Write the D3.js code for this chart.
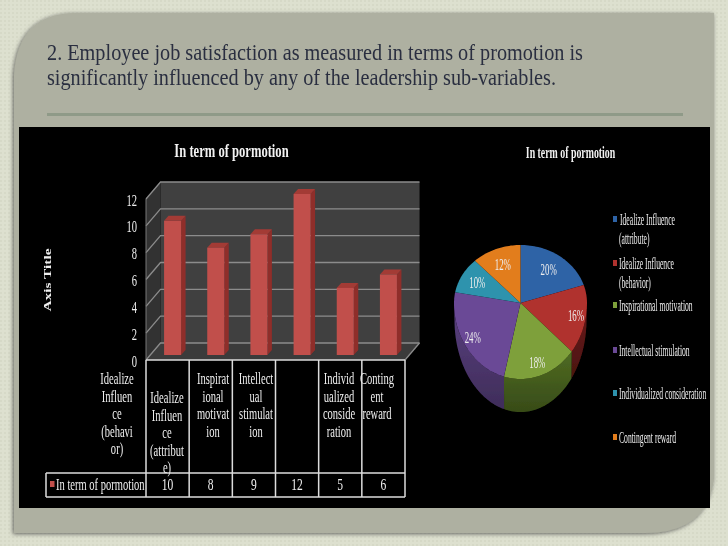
<!DOCTYPE html>
<html><head><meta charset="utf-8">
<script src="https://cdn.jsdelivr.net/npm/d3@7"></script>
<style>html,body{margin:0;padding:0;background:#dde0cf}svg{display:block}text{font-family:"Liberation Serif",serif}</style>
</head><body><svg id="c" width="728" height="546"></svg>
<script>
const headline = ["2. Employee job satisfaction as measured in terms of promotion is","significantly influenced by any of the leadership sub-variables."];
const chartTitle = "In term of pormotion";
const axisTitle = "Axis Title";
const seriesName = "In term of pormotion";
const tickLabels = [0,2,4,6,8,10,12];
const barValues = [10,8,9,12,5,6];
const axisLabels = [
  ["Idealize","Influen","ce","(behavi","or)"],
  ["Idealize","Influen","ce","(attribut","e)"],
  ["Inspirat","ional","motivat","ion"],
  ["Intellect","ual","stimulat","ion"],
  [],
  ["Individ","ualized","conside","ration"],
  ["Conting","ent","reward"]
];
const pieCategories = ["Idealize Influence (attribute)","Idealize Influence (behavior)","Inspirational motivation","Intellectual stimulation","Individualized consideration","Contingent reward"];
const pieValues = [20,16,18,24,10,12];
const pieColors = ["#2f63a6","#b0312d","#7ea03a","#6a4896","#2f93ad","#e27d1f"];
const sideColors = ["#1d3d66","#6a1a17","#4f6b22","#5a4080","#1c5a6a","#8a4c12"];
const legendLines = [["Idealize Influence","(attribute)"],["Idealize Influence","(behavior)"],["Inspirational motivation"],["Intellectual stimulation"],["Individualized consideration"],["Contingent reward"]];

const svg = d3.select("#c");
const defs = svg.append("defs");
const pat = defs.append("pattern").attr("id","dots").attr("width",4).attr("height",4).attr("patternUnits","userSpaceOnUse");
pat.append("rect").attr("width",4).attr("height",4).attr("fill","#dde0cf");
pat.append("rect").attr("width",2).attr("height",2).attr("fill","#d6d9c7");
const sh = defs.append("filter").attr("id","sh").attr("x","-5%").attr("y","-5%").attr("width","110%").attr("height","110%");
sh.append("feDropShadow").attr("dx",-1).attr("dy",1).attr("stdDeviation",2).attr("flood-color","#444").attr("flood-opacity",.8);
defs.append("filter").attr("id","soft").append("feGaussianBlur").attr("stdDeviation",.45);
const shade = defs.append("linearGradient").attr("id","sideShade").attr("x1",0).attr("x2",0).attr("y1",0).attr("y2",1);
shade.append("stop").attr("offset",0).attr("stop-color","#000").attr("stop-opacity",0);
shade.append("stop").attr("offset",1).attr("stop-color","#000").attr("stop-opacity",.3);

svg.append("rect").attr("width",728).attr("height",546).attr("fill","url(#dots)");
const root = svg.append("g").attr("filter","url(#soft)");
root.append("path").attr("filter","url(#sh)").attr("fill","#aeb0a1")
  .attr("d","M14 75 Q18 13 76 13 H714 V478 Q708 533 645 533 H14 Z");
root.append("rect").attr("x",47).attr("y",113).attr("width",636).attr("height",3).attr("fill","#8f9a88");
[[536,60],[509,85]].forEach((d,i)=>root.append("text").attr("x",47).attr("y",d[1]).attr("font-size",24).attr("fill","#2a2f40")
  .attr("textLength",d[0]).attr("lengthAdjust","spacingAndGlyphs").text(headline[i]));
root.append("rect").attr("x",19).attr("y",127).attr("width",691).attr("height",381).attr("fill","#000");

function squeezed(g,x,y,str,sx,anchor,size,fill){
  return g.append("text").attr("transform",`translate(${x},${y}) scale(${sx},1)`)
    .attr("text-anchor",anchor).attr("font-size",size).attr("fill",fill||"#eee").attr("dominant-baseline","central").text(str);
}

/* ---------- 3-D column chart ---------- */
const left=146,right=405,floorY=360,depthX=14.5,depthY=-17,topY=199;
const yWall=d3.scaleLinear().domain([0,12]).range([floorY,topY]);
const yBar=d3.scaleLinear().domain([0,12]).range([355,194]);
const x=d3.scaleBand().domain(d3.range(6)).range([left,right]);
const w=x.bandwidth(), barW=17, bx=4.5, by=-5, shift=5;
const pts=a=>a.map(p=>p.join(",")).join(" ");
const c=root.append("g");
c.append("polygon").attr("points",pts([[left+depthX,yWall(12)+depthY],[right+depthX,yWall(12)+depthY],[right+depthX,floorY+depthY],[left+depthX,floorY+depthY]])).attr("fill","#414141");
c.append("polygon").attr("points",pts([[left,yWall(12)],[left+depthX,yWall(12)+depthY],[left+depthX,floorY+depthY],[left,floorY]])).attr("fill","#333");
c.append("polygon").attr("points",pts([[left,floorY],[right,floorY],[right+depthX,floorY+depthY],[left+depthX,floorY+depthY]])).attr("fill","#3a3a3a");
tickLabels.forEach(t=>{
  c.append("polyline").attr("fill","none").attr("stroke","#8c8c8c").attr("stroke-width",1.3)
   .attr("points",pts([[left,yWall(t)],[left+depthX,yWall(t)+depthY],[right+depthX,yWall(t)+depthY]]));
});
c.append("polyline").attr("fill","none").attr("stroke","#8c8c8c").attr("stroke-width",1.3)
 .attr("points",pts([[right,floorY],[right+depthX,floorY+depthY]]));
c.append("line").attr("x1",left).attr("x2",left).attr("y1",yWall(12)).attr("y2",floorY).attr("stroke","#777").attr("stroke-width",1);
const bars=c.selectAll("g.bar").data(barValues).join("g").attr("class","bar");
const bL=(d,i)=>x(i)+w/2+shift-barW/2;
bars.append("polygon").attr("fill","#8f2e2b").attr("points",(d,i)=>pts([[bL(d,i)+barW,yBar(d)],[bL(d,i)+barW+bx,yBar(d)+by],[bL(d,i)+barW+bx,yBar(0)+by],[bL(d,i)+barW,yBar(0)]]));
bars.append("polygon").attr("fill","#a33a36").attr("points",(d,i)=>pts([[bL(d,i),yBar(d)],[bL(d,i)+bx,yBar(d)+by],[bL(d,i)+barW+bx,yBar(d)+by],[bL(d,i)+barW,yBar(d)]]));
bars.append("rect").attr("fill","#c1504c").attr("x",bL).attr("y",d=>yBar(d)).attr("width",barW).attr("height",d=>yBar(0)-yBar(d));

const yAxis=c.append("g").attr("transform",`translate(${left},0)`).call(d3.axisLeft(yWall).tickValues(tickLabels).tickSize(0).tickPadding(0));
yAxis.select(".domain").remove();
yAxis.selectAll("text").attr("x",0).attr("dy",null).attr("dominant-baseline","central").attr("font-size",17).attr("font-family","Liberation Serif").attr("fill","#eee")
  .attr("transform","translate(-9,0) scale(.62,1)");

const tableBottom=497,rowTop=473,legendLeft=46;
const tline=(a,b,e,f)=>c.append("line").attr("x1",a).attr("y1",b).attr("x2",e).attr("y2",f).attr("stroke","#ddd").attr("stroke-width",1.5);
tline(left,floorY,right,floorY);
tline(legendLeft,rowTop,right,rowTop);
tline(legendLeft,tableBottom,right,tableBottom);
tline(legendLeft,rowTop,legendLeft,tableBottom);
d3.range(7).forEach(i=>tline(left+i*w,floorY,left+i*w,tableBottom));

const labelCenter=[117,167,213,256,297,339,377];
const lineTop=[378,397,378,378,378,378,378];
axisLabels.forEach((lines,i)=>lines.forEach((s,j)=>{
  squeezed(c,labelCenter[i],lineTop[i]+j*17.6,s,.62,"middle",17);
}));
c.selectAll("text.v").data(barValues).join("text").attr("class","v")
  .attr("transform",(d,i)=>`translate(${x(i)+w/2},484) scale(.68,1)`)
  .attr("text-anchor","middle").attr("dominant-baseline","central").attr("font-size",17).attr("fill","#eee").text(d=>d);
c.append("rect").attr("x",50).attr("y",481).attr("width",4.5).attr("height",6).attr("fill","#c1504c");
squeezed(c,56,484,seriesName,.62,"start",17);
squeezed(c,231.5,151,chartTitle,.7,"middle",18,"#f2f2f2").attr("font-weight","bold");
c.append("text").attr("transform","translate(47,280) rotate(-90)").attr("text-anchor","middle").attr("dominant-baseline","central")
  .attr("font-size",11).attr("font-weight","bold").attr("fill","#eee").attr("textLength",63).attr("lengthAdjust","spacingAndGlyphs").text(axisTitle);

/* ---------- 3-D pie ---------- */
const cx=520.5,cy=303,rx=66.5,ryUp=58,ryDown=76;
const top3=a=>{const s=Math.sin(a),k=Math.cos(a);return [cx+rx*s, cy-(k>0?ryUp:ryDown)*k];};
const bot3=a=>{const s=Math.sin(a),k=Math.cos(a);return [cx+66*s, 320-92*k];};
const arcs=d3.pie().sort(null)(pieValues);
const line=d3.line();
const steps=(a0,a1)=>{const n=Math.max(2,Math.ceil((a1-a0)/.03));return d3.range(n+1).map(i=>a0+(a1-a0)*i/n);};
const p=root.append("g");
arcs.forEach((a,i)=>{
  const a0=Math.max(a.startAngle,Math.PI/2),a1=Math.min(a.endAngle,Math.PI*1.5);
  if(a1<=a0)return;
  const path=steps(a0,a1).map(top3).concat(steps(a0,a1).reverse().map(bot3));
  p.append("path").attr("d",line(path)+"Z").attr("fill",sideColors[i]);
  p.append("path").attr("d",line(path)+"Z").attr("fill","url(#sideShade)");
});
arcs.forEach((a,i)=>{
  const path=[[cx,cy]].concat(steps(a.startAngle,a.endAngle).map(top3));
  p.append("path").attr("d",line(path)+"Z").attr("fill",pieColors[i]);
});
const total=d3.sum(pieValues);
const labelReach=[.72,.85,.82,.85,.74,.72];
arcs.forEach((a,i)=>{
  const m=(a.startAngle+a.endAngle)/2,q=top3(m),f=labelReach[i];
  squeezed(p,cx+(q[0]-cx)*f,cy+(q[1]-cy)*f,Math.round(a.value/total*100)+"%",.52,"middle",17);
});
squeezed(p,570.5,152,chartTitle,.58,"middle",17,"#f2f2f2").attr("font-weight","bold");

/* legend */
const legendY=[219,263,305,350,393,437];
legendLines.forEach((ls,i)=>{
  p.append("rect").attr("x",613).attr("y",legendY[i]-3).attr("width",4).attr("height",6).attr("fill",pieColors[i]);
  ls.forEach((s,j)=>squeezed(p,j===0&&i===0?620:619,legendY[i]+j*19,s,.45,"start",17));
});
</script></body></html>
